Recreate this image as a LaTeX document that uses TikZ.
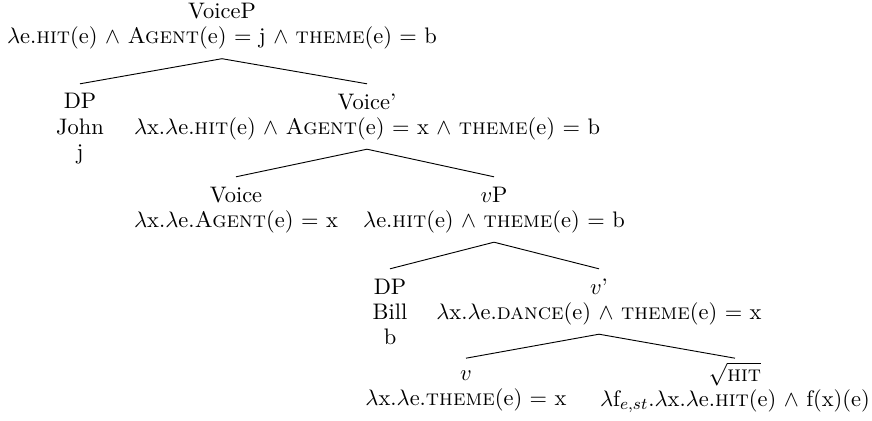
\documentclass[tikz,border=0pt]{standalone}
\begin{document}
\begin{tikzpicture}[x=0.4878pt,y=-0.4878pt,
  tn/.style={align=center, inner sep=0pt, outer ysep=3.75pt, anchor=north,
    font=\fontsize{10.95}{12.2}\selectfont},
  leaf/.style={tn, outer ysep=2.1pt},
  br/.style={line width=0.45pt}]
\useasboundingbox (0,0) rectangle (872,420);
% tree nodes: category label and denotation
\node[tn] (voicep) at (222,-6.7)
  {\strut VoiceP\\$\lambda$e.\textsc{hit}(e) $\wedge$ \textsc{Agent}(e) $=$ j $\wedge$ \textsc{theme}(e) $=$ b\strut};
\node[tn] (john) at (80,83.8)
  {\strut DP\\John\\j\strut};
\node[tn] (voicebar) at (367,83.8)
  {\strut Voice'\\$\lambda$x.$\lambda$e.\textsc{hit}(e) $\wedge$ \textsc{Agent}(e) $=$ x $\wedge$ \textsc{theme}(e) $=$ b\strut};
\node[tn] (voice) at (236,176.8)
  {\strut Voice\\$\lambda$x.$\lambda$e.\textsc{Agent}(e) $=$ x\strut};
\node[tn] (vp) at (494,176.8)
  {\strut $v$P\\$\lambda$e.\textsc{hit}(e) $\wedge$ \textsc{theme}(e) $=$ b\strut};
\node[tn] (bill) at (390,268.8)
  {\strut DP\\Bill\\b\strut};
\node[tn] (vbar) at (599,268.8)
  {\strut $v$'\\$\lambda$x.$\lambda$e.\textsc{dance}(e) $\wedge$ \textsc{theme}(e) $=$ x\strut};
\node[leaf] (v) at (466,358.2)
  {\strut $v$\\$\lambda$x.$\lambda$e.\textsc{theme}(e) $=$ x\strut};
\node[leaf] (root) at (735,358.2)
  {\strut $\sqrt{\mbox{\textsc{hit}}}$\\$\lambda$f$_{e,st}$.$\lambda$x.$\lambda$e.\textsc{hit}(e) $\wedge$ f(x)(e)\strut};
% branches
\draw[br] (voicep.south) -- (john.north);
\draw[br] (voicep.south) -- (voicebar.north);
\draw[br] (voicebar.south) -- (voice.north);
\draw[br] (voicebar.south) -- (vp.north);
\draw[br] (vp.south) -- (bill.north);
\draw[br] (vp.south) -- (vbar.north);
\draw[br] (vbar.south) -- (v.north);
\draw[br] (vbar.south) -- (root.north);
\end{tikzpicture}
\end{document}
